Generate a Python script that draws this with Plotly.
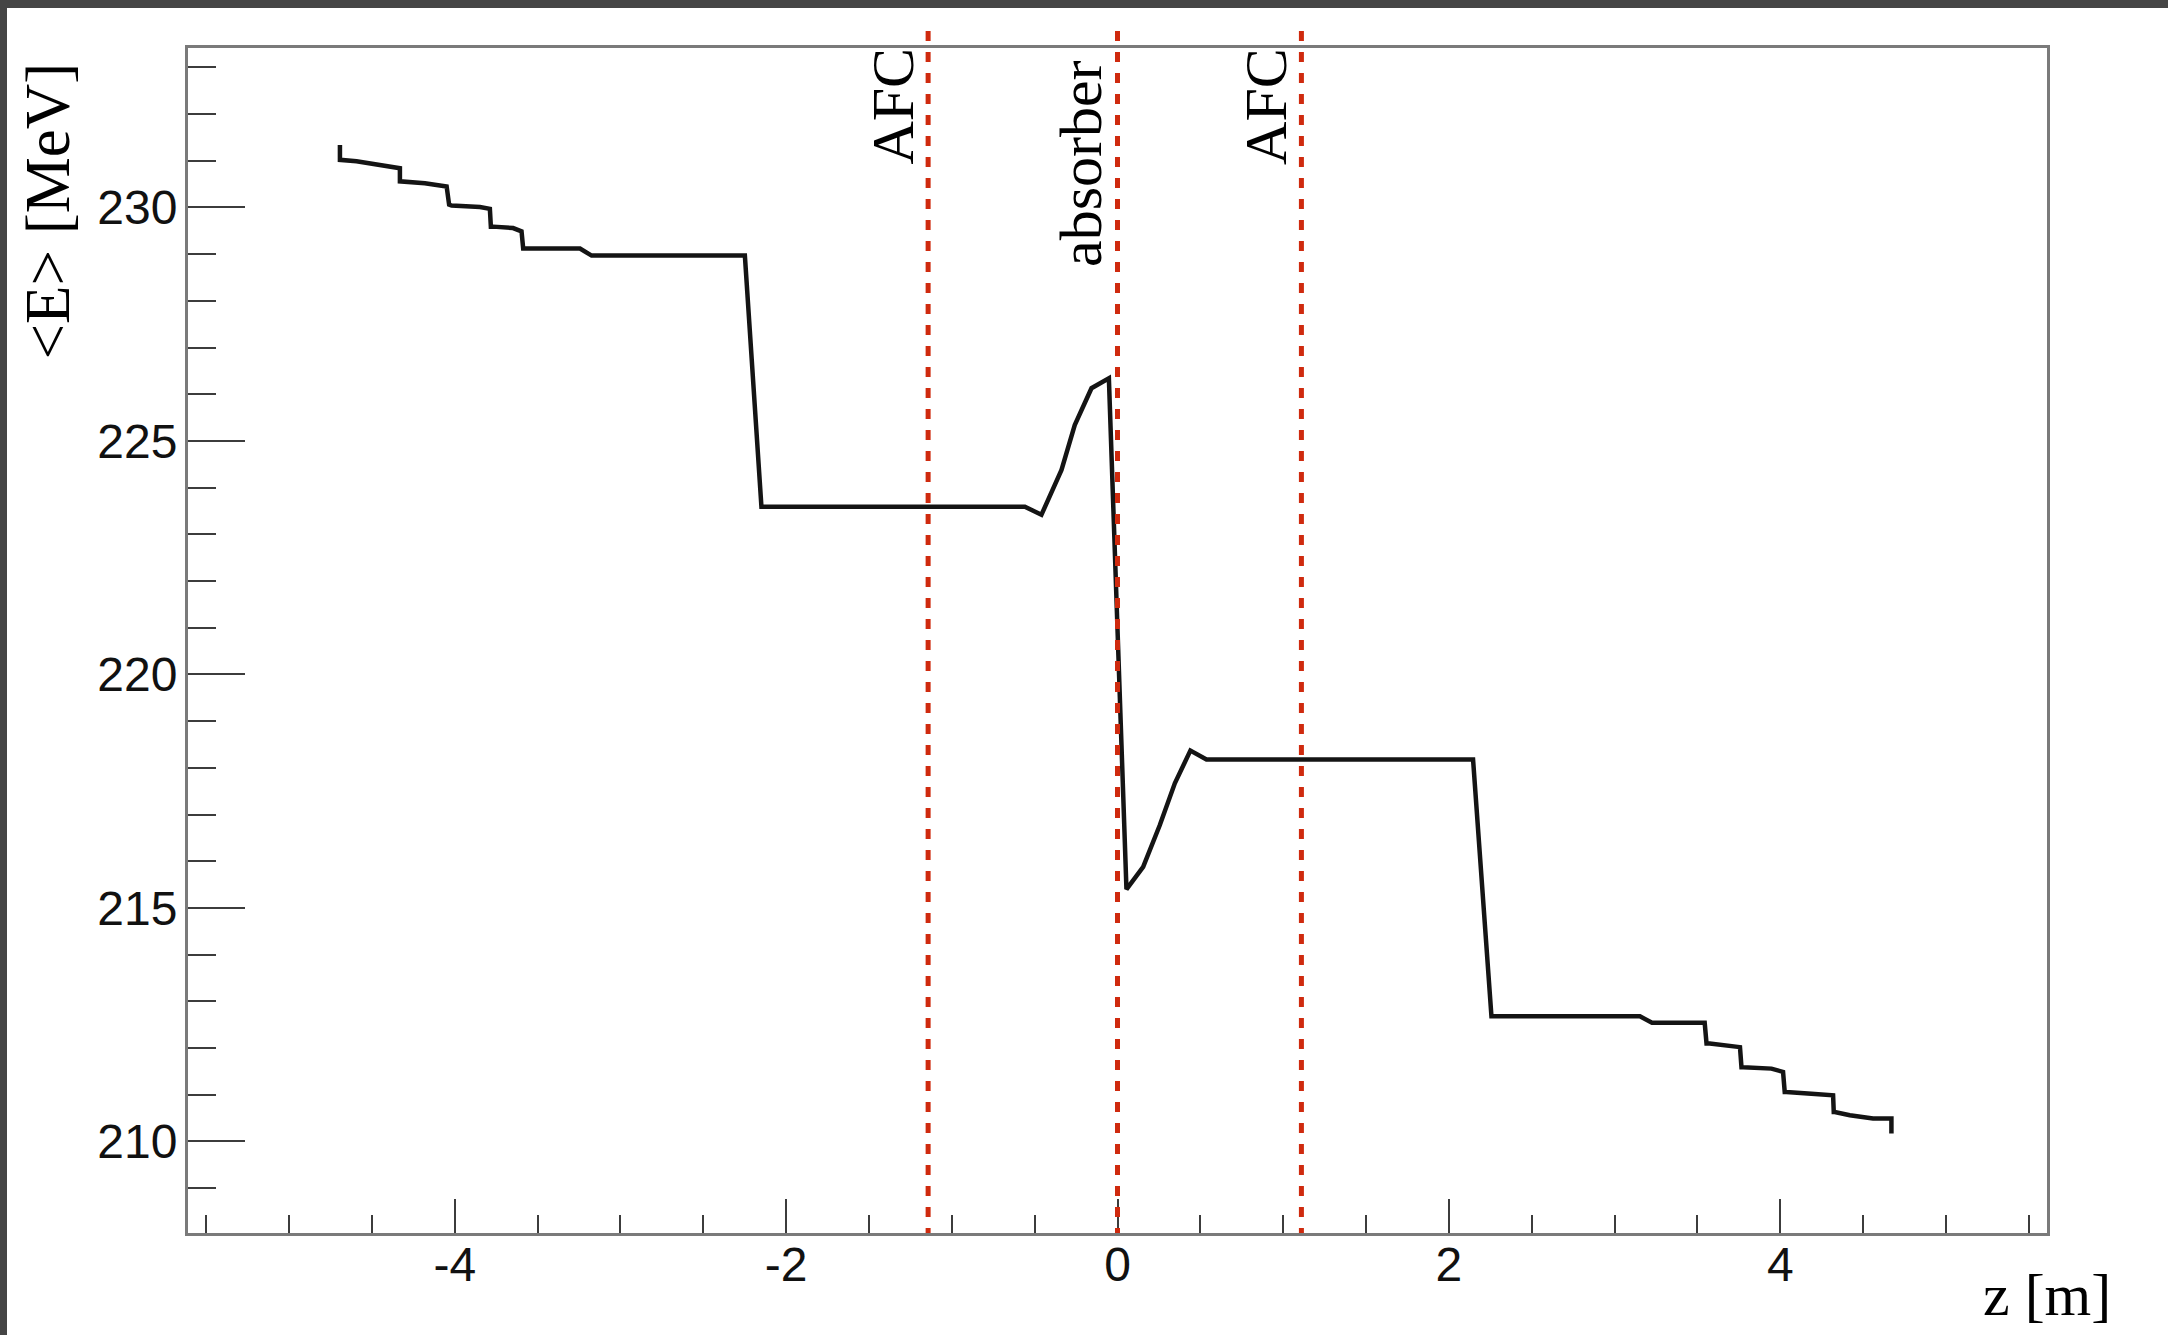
import plotly.graph_objects as go

# Mean beam energy along the channel
z_m = [
    -4.693, -4.693, -4.593, -4.512, -4.412, -4.331, -4.331, -4.180, -4.049,
    -4.034, -4.019, -3.848, -3.788, -3.782, -3.768, -3.648, -3.597, -3.587,
    -3.244, -3.174, -2.249, -2.149, -0.559, -0.459, -0.338, -0.258, -0.157,
    -0.052, 0.054, 0.155, 0.255, 0.346, 0.440, 0.537, 2.146, 2.257, 3.153,
    3.226, 3.544, 3.555, 3.575, 3.757, 3.766, 3.776, 3.947, 4.017, 4.027,
    4.037, 4.188, 4.319, 4.323, 4.329, 4.420, 4.560, 4.671, 4.671,
]
energy_mev = [
    231.34, 231.02, 230.99, 230.95, 230.89, 230.84, 230.56, 230.52, 230.45,
    230.06, 230.04, 230.01, 229.97, 229.59, 229.59, 229.56, 229.49, 229.12,
    229.12, 228.97, 228.97, 223.59, 223.59, 223.42, 224.38, 225.34, 226.13,
    226.34, 215.40, 215.88, 216.77, 217.67, 218.37, 218.18, 218.18, 212.68, 212.68,
    212.54, 212.54, 212.10, 212.10, 212.02, 211.59, 211.59, 211.56, 211.49, 211.06,
    211.06, 211.02, 210.99, 210.63, 210.63, 210.56, 210.49, 210.49, 210.17,
]

# Element positions along z
marker_z = [-1.143, 0.0, 1.11]
marker_labels = ["AFC", "absorber", "AFC"]
marker_label_bottom_px = [166, 268, 166]

x_range = [-5.61, 5.61]
y_range = [208.04, 233.415]
x_major_ticks = [-4, -2, 0, 2, 4]
y_major_ticks = [210, 215, 220, 225, 230]

W, H = 2168, 1335
L, R, T, B = 188, 2047, 48, 1233


def paper_x(px):
    return (px - L) / (R - L)


def paper_y(py):
    return (B - py) / (B - T)


fig = go.Figure()
fig.add_trace(go.Scatter(
    x=z_m, y=energy_mev, mode="lines",
    line=dict(color="#141414", width=4.5),
    showlegend=False, hoverinfo="skip",
))

RED = "#cf2a0e"
shapes = []
for zv in marker_z:
    shapes.append(dict(
        type="line", xref="x", yref="paper",
        x0=zv, x1=zv, y0=paper_y(31), y1=0,
        line=dict(color=RED, width=5, dash="10px,11px"),
        layer="above",
    ))

# dark window border at the top and left edges
BORDER = "#454545"
shapes.append(dict(type="rect", xref="paper", yref="paper",
                   x0=paper_x(0), x1=paper_x(W), y0=paper_y(8), y1=paper_y(0),
                   fillcolor=BORDER, line=dict(width=0), layer="above"))
shapes.append(dict(type="rect", xref="paper", yref="paper",
                   x0=paper_x(0), x1=paper_x(7), y0=paper_y(H), y1=paper_y(0),
                   fillcolor=BORDER, line=dict(width=0), layer="above"))

SERIF = "Liberation Serif"
annotations = []
for zv, lab, bottom in zip(marker_z, marker_labels, marker_label_bottom_px):
    annotations.append(dict(
        xref="x", yref="paper", x=zv, y=paper_y(bottom),
        xanchor="right", yanchor="bottom", xshift=-2,
        text=lab, textangle=-90, showarrow=False, borderpad=0,
        font=dict(family=SERIF, size=60, color="#000000"),
    ))

annotations.append(dict(
    xref="paper", yref="paper", x=paper_x(47), y=paper_y(62),
    xanchor="center", yanchor="top", text="&lt;E&gt; [MeV]", textangle=-90,
    showarrow=False, borderpad=0,
    font=dict(family=SERIF, size=63, color="#000000"),
))
annotations.append(dict(
    xref="paper", yref="paper", x=paper_x(2112), y=paper_y(1295),
    xanchor="right", yanchor="middle", text="z [m]",
    showarrow=False, borderpad=0,
    font=dict(family=SERIF, size=60, color="#000000"),
))

AXIS_LINE = "#7a7a7a"
TICK = "#3c3c3c"
tick_font = dict(family="Liberation Sans", size=48, color="#111111")

fig.update_layout(
    width=W, height=H,
    margin=dict(l=L, r=W - R, t=T, b=H - B, pad=0),
    paper_bgcolor="white", plot_bgcolor="white",
    shapes=shapes, annotations=annotations,
    xaxis=dict(
        range=x_range, tickmode="array", tickvals=x_major_ticks,
        ticktext=[str(v) for v in x_major_ticks],
        ticks="inside", ticklen=34, tickwidth=2, tickcolor=TICK,
        minor=dict(dtick=0.5, tick0=0, ticks="inside", ticklen=18,
                   tickwidth=2, tickcolor=TICK),
        showgrid=False, zeroline=False,
        showline=True, linecolor=AXIS_LINE, linewidth=3, mirror=True,
        tickfont=tick_font, ticklabelstandoff=-13,
    ),
    yaxis=dict(
        range=y_range, tickmode="array", tickvals=y_major_ticks,
        ticktext=[str(v) for v in y_major_ticks],
        ticks="inside", ticklen=57, tickwidth=2, tickcolor=TICK,
        minor=dict(dtick=1, tick0=0, ticks="inside", ticklen=28,
                   tickwidth=2, tickcolor=TICK),
        showgrid=False, zeroline=False,
        showline=True, linecolor=AXIS_LINE, linewidth=3, mirror=True,
        tickfont=tick_font, ticklabelstandoff=-2,
    ),
)

fig.write_html("out.html")
